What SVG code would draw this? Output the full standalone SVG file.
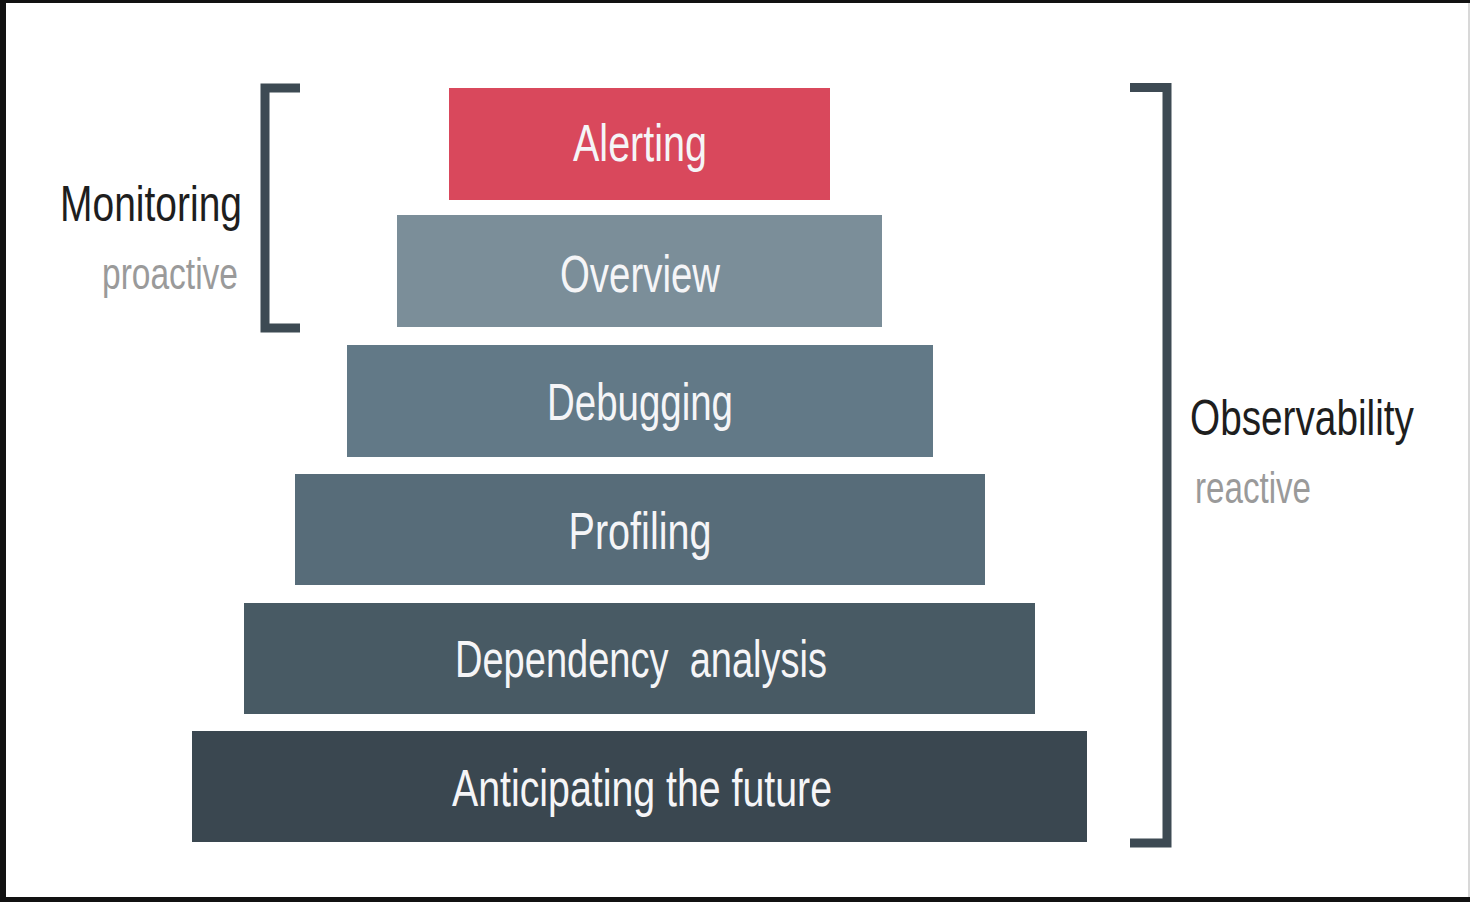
<svg xmlns="http://www.w3.org/2000/svg" width="1470" height="902" viewBox="0 0 1470 902">
  <style>
    .lbl { font-family: "Liberation Sans", Arial, sans-serif; font-size: 52px; fill: #f5f5f7; text-anchor: middle; }
    .side { font-family: "Liberation Sans", Arial, sans-serif; fill: #1e1e1e; }
    .sub { font-family: "Liberation Sans", Arial, sans-serif; fill: #9a9a9a; }
    .br { fill: none; stroke: #3d4a53; stroke-width: 9; stroke-linejoin: miter; stroke-linecap: butt; }
  </style>
  <rect x="0" y="0" width="1470" height="902" fill="#111111"/>
  <rect x="6" y="3" width="1464" height="894" fill="#ffffff"/>
  <rect x="1468" y="3" width="2" height="894" fill="#d8d8d8"/>

  <g id="alerting">
    <rect x="449" y="88" width="381" height="112" fill="#d9485c"/>
    <text class="lbl" x="640" y="161" textLength="134" lengthAdjust="spacingAndGlyphs">Alerting</text>
  </g>
  <g id="overview">
    <rect x="397" y="215" width="485" height="112" fill="#7b8e99"/>
    <text class="lbl" x="640" y="292" textLength="160" lengthAdjust="spacingAndGlyphs">Overview</text>
  </g>
  <g id="debugging">
    <rect x="347" y="345" width="586" height="112" fill="#627987"/>
    <text class="lbl" x="640" y="420" textLength="186" lengthAdjust="spacingAndGlyphs">Debugging</text>
  </g>
  <g id="profiling">
    <rect x="295" y="474" width="690" height="111" fill="#576c79"/>
    <text class="lbl" x="640" y="549" textLength="143" lengthAdjust="spacingAndGlyphs">Profiling</text>
  </g>
  <g id="dependency">
    <rect x="244" y="603" width="791" height="111" fill="#485a64"/>
    <text class="lbl" x="641" y="677" textLength="372" lengthAdjust="spacingAndGlyphs" xml:space="preserve">Dependency  analysis</text>
  </g>
  <g id="anticipating">
    <rect x="192" y="731" width="895" height="111" fill="#3a4750"/>
    <text class="lbl" x="642" y="806" textLength="380" lengthAdjust="spacingAndGlyphs">Anticipating the future</text>
  </g>

  <g id="monitoring">
    <text class="side" x="242" y="221" font-size="50" text-anchor="end" textLength="182" lengthAdjust="spacingAndGlyphs">Monitoring</text>
    <text class="sub" x="238" y="289" font-size="44" text-anchor="end" textLength="136" lengthAdjust="spacingAndGlyphs">proactive</text>
  </g>
  <g id="observability">
    <text class="side" x="0" y="0" font-size="50" transform="translate(1190,435) scale(0.775,1)">Observability</text>
    <text class="sub" x="1195" y="503" font-size="44" textLength="116" lengthAdjust="spacingAndGlyphs">reactive</text>
  </g>

  <g id="brackets">
    <path class="br" d="M300,88 H265 V328 H300"/>
    <path class="br" d="M1130,87.5 H1167 V843 H1130"/>
  </g>
</svg>
